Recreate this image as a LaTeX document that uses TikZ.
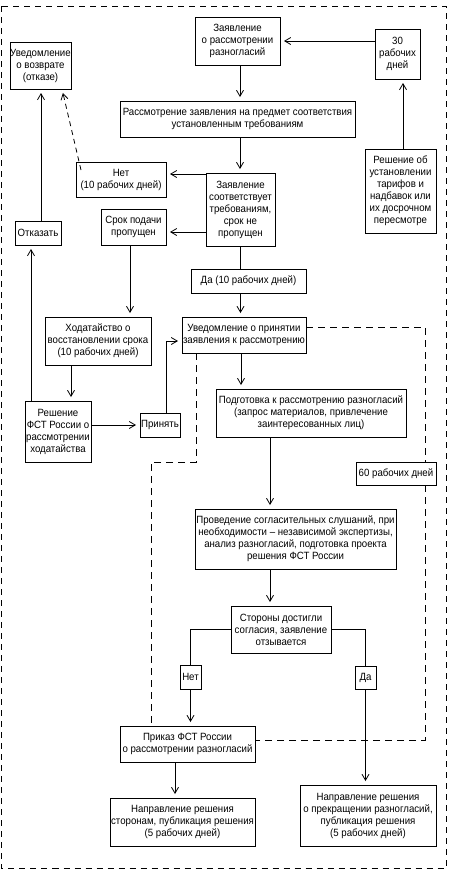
\documentclass[tikz,border=0pt]{standalone}
\usepackage{fontspec}
\setmainfont{Liberation Sans}[FakeStretch=0.92]
\usetikzlibrary{arrows.meta}
\begin{document}
\begin{tikzpicture}[x=1pt,y=-1pt,
  box/.style={draw, line width=0.8pt, inner sep=0pt, outer sep=0pt, align=center,
    font=\fontsize{10.5}{12}\selectfont},
  arr/.style={line width=0.8pt, -{Straight Barb[length=6pt,width=7pt,line width=0.8pt]}, shorten >=4pt},
  ln/.style={line width=0.8pt},
  dsh/.style={line width=0.8pt, dash pattern=on 7pt off 5pt},
]
\fill[white] (0,0) rectangle (452,879);
\useasboundingbox (0,0) rectangle (452,879);
\draw[line width=1pt, dash pattern=on 6pt off 5pt] (1.5,6) rectangle (446,868);

\node[box, minimum width=61, minimum height=47] (uvozv) at (40.5,65.5) {Уведомление\\о возврате\\(отказе)};
\node[box, minimum width=85, minimum height=48] (zayav) at (237.5,41) {Заявление\\о рассмотрении\\разногласий};
\node[box, minimum width=45, minimum height=50] (d30) at (397.5,54) {30\\рабочих\\дней};
\node[box, minimum width=235, minimum height=36] (rassm) at (237.5,119) {Рассмотрение заявления на предмет соответствия\\установленным требованиям};
\node[box, minimum width=71, minimum height=84] (reshtar) at (400.5,191) {Решение об\\установлении\\тарифов и\\надбавок или\\их досрочном\\пересмотре};
\node[box, minimum width=90, minimum height=35] (net1) at (121,179.5) {Нет\\(10 рабочих дней)};
\node[box, minimum width=69, minimum height=73] (sootv) at (240.5,209.5) {Заявление\\соответствует\\требованиям,\\срок не\\пропущен};
\node[box, minimum width=65, minimum height=36] (srok) at (133.5,227) {Срок подачи\\пропущен};
\node[box, minimum width=46, minimum height=24] (otkaz) at (38,233) {Отказать};
\node[box, minimum width=115, minimum height=24] (da10) at (248.5,281) {Да (10 рабочих дней)};
\node[box, minimum width=106, minimum height=48] (hod) at (98,341) {Ходатайство о\\восстановлении срока\\(10 рабочих дней)};
\node[box, minimum width=124, minimum height=36] (uvprin) at (244,335) {Уведомление о принятии\\заявления к рассмотрению};
\node[box, minimum width=66, minimum height=61] (reshhod) at (58,431.5) {Решение\\ФСТ России о\\рассмотрении\\ходатайства};
\node[box, minimum width=40, minimum height=24] (prin) at (160,425) {Принять};
\node[box, minimum width=190, minimum height=48] (podg) at (311,413) {Подготовка к рассмотрению разногласий\\(запрос материалов, привлечение\\заинтересованных лиц)};
\node[box, minimum width=80, minimum height=23] (d60) at (396,473.5) {60 рабочих дней};
\node[box, minimum width=201, minimum height=60] (prov) at (295.5,539) {Проведение согласительных слушаний, при\\необходимости – независимой экспертизы,\\анализ разногласий, подготовка проекта\\решения ФСТ России};
\node[box, minimum width=100, minimum height=47] (storony) at (281,629.5) {Стороны достигли\\согласия, заявление\\отзывается};
\node[box, minimum width=21, minimum height=24] (net2) at (190.5,677) {Нет};
\node[box, minimum width=21, minimum height=23] (da2) at (365.5,677.5) {Да};
\node[box, minimum width=135, minimum height=36] (prikaz) at (187.5,744) {Приказ ФСТ России\\о рассмотрении разногласий};
\node[box, minimum width=145, minimum height=48] (napr1) at (182.5,822) {Направление решения\\сторонам, публикация решения\\(5 рабочих дней)};
\node[box, minimum width=136, minimum height=61] (napr2) at (368,815.5) {Направление решения\\о прекращении разногласий,\\публикация решения\\(5 рабочих дней)};

% solid connectors
\draw[arr] (d30.west |- zayav.east) -- (zayav.east);
\draw[arr] ([xshift=2.5]reshtar.north) -- ([xshift=2.5]reshtar.north |- d30.south);
\draw[arr] ([xshift=2.5]zayav.south) -- ([xshift=2.5]zayav.south |- rassm.north);
\draw[arr] ([xshift=2.5]rassm.south) -- ([xshift=2.5]rassm.south |- sootv.north);
\draw[arr] ([yshift=5.5]sootv.west |- net1.east) -- ([yshift=5.5]net1.east);
\draw[arr] ([yshift=-5]sootv.west |- srok.east) -- ([yshift=-5]srok.east);
\draw[arr] ([xshift=3]otkaz.north) -- ([xshift=3]otkaz.north |- uvozv.south);
\draw[arr, dash pattern=on 5pt off 4pt] ([xshift=5,yshift=-8]net1.north west) -- ([xshift=-9]uvozv.south east);
\draw[arr] ([xshift=-3.5]srok.south) -- ([xshift=-3.5]srok.south |- hod.north);
\draw[arr] ([xshift=-27]hod.south) -- ([xshift=-27]hod.south |- reshhod.north);
\draw[arr] ([xshift=-27]reshhod.north) -- ([xshift=-27]reshhod.north |- otkaz.south);
\draw[arr] (reshhod.east |- prin.west) -- (prin.west);
\draw[arr] ([xshift=6]prin.north) |- ([yshift=-6]uvprin.west);
\draw[ln] (sootv.south) -- (sootv.south |- da10.north);
\draw[arr] (sootv.south |- da10.south) -- (sootv.south |- uvprin.north);
\draw[arr] ([xshift=-3]uvprin.south) -- ([xshift=-3]uvprin.south |- podg.north);
\draw[arr] ([xshift=-41]podg.south) -- ([xshift=-41]podg.south |- prov.north);
\draw[arr] ([xshift=-25.5]prov.south) -- ([xshift=-25.5]prov.south |- storony.north);
\draw[ln] (storony.west) -| (net2.north);
\draw[arr] (net2.south) -- (net2.south |- prikaz.north);
\draw[ln] (storony.east) -| (da2.north);
\draw[arr] (da2.south) -- (da2.south |- napr2.north);
\draw[arr] ([xshift=-12.5]prikaz.south) -- ([xshift=-12.5]prikaz.south |- napr1.north);

% dashed connectors
\coordinate (dj) at (151,462);
\draw[dsh] ([yshift=8]uvprin.east) -| ([xshift=29]d60.north);
\draw[dsh] ([xshift=29]d60.south) |- ([yshift=4]prikaz.east);
\draw[dsh] ([xshift=-48]uvprin.south) |- (dj) -- (dj |- prikaz.north);
\end{tikzpicture}
\end{document}
